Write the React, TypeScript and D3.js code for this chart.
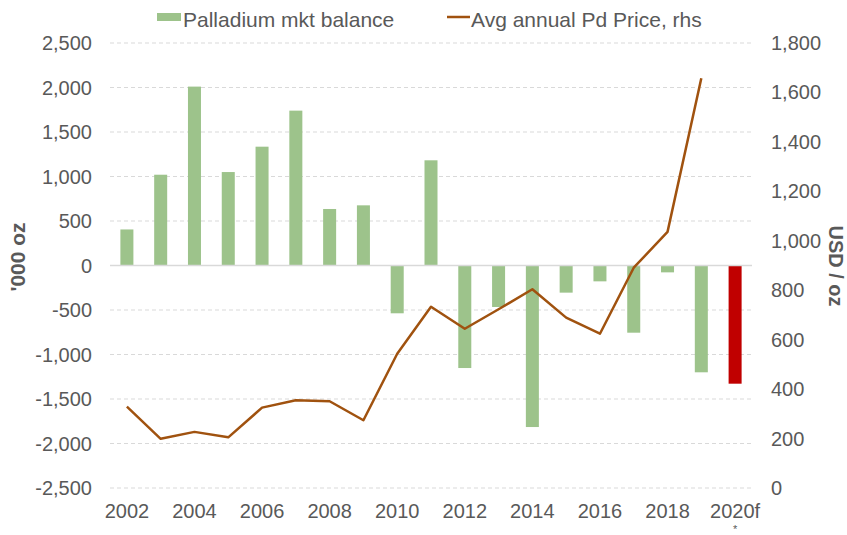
import React from "react";
import * as d3 from "d3";

const categories = ["2002","2003","2004","2005","2006","2007","2008","2009","2010","2011","2012","2013","2014","2015","2016","2017","2018","2019","2020f"];
const balance = [405, 1020, 2010, 1050, 1335, 1740, 635, 676, -537, 1182, -1152, -466, -1815, -305, -178, -755, -77, -1200, -1328];
const price = [329, 199, 227, 205, 325, 355, 351, 274, 543, 733, 644, 723, 804, 689, 624, 891, 1036, 1657, null];
const leftTicks = [-2500, -2000, -1500, -1000, -500, 0, 500, 1000, 1500, 2000, 2500];
const rightTicks = [0, 200, 400, 600, 800, 1000, 1200, 1400, 1600, 1800];
const xTickLabels = ["2002","2004","2006","2008","2010","2012","2014","2016","2018","2020f"];
const forecastCategory = "2020f";

const W = 847, H = 535;
const FONT = "'Liberation Sans', Arial, sans-serif";
const TEXT = "#595959";

export default function App() {
  const x = d3.scaleBand<string>().domain(categories).range([110, 752]).paddingInner(0.615).paddingOuter(0.3075);
  const yL = d3.scaleLinear().domain([-2500, 2500]).range([488, 43]);
  const yR = d3.scaleLinear().domain([0, 1800]).range([488, 43]);
  const f = d3.format(",");
  const fmt = (v: number) => f(v).replace("\u2212", "-");
  const cx = (c: string) => (x(c) as number) + x.bandwidth() / 2;

  const pts = categories.map((c, i) => ({ c, v: price[i] })).filter(d => d.v != null) as { c: string; v: number }[];
  const line = d3.line<{ c: string; v: number }>().x(d => cx(d.c)).y(d => yR(d.v));

  return (
    <svg width={W} height={H} style={{ position: "absolute", left: 0, top: 0, background: "#fff" }} fontFamily={FONT}>
      {leftTicks.filter(t => t !== 0).map(t => (
        <line key={t} x1={110} x2={752} y1={yL(t)} y2={yL(t)} stroke="#D9D9D9" strokeWidth={1} strokeDasharray="4,3" />
      ))}
      {categories.map((c, i) => {
        const v = balance[i];
        const y0 = yL(0), y1 = yL(v);
        return (
          <rect key={c} x={x(c)} width={x.bandwidth()} y={Math.min(y0, y1)} height={Math.abs(y1 - y0)}
            fill={c === forecastCategory ? "#C00000" : "#9DC38B"} />
        );
      })}
      <line x1={110} x2={752} y1={yL(0)} y2={yL(0)} stroke="#D9D9D9" strokeWidth={1.5} />
      <path d={line(pts) || ""} fill="none" stroke="#A0520F" strokeWidth={2.5} strokeLinejoin="round" />
      {leftTicks.map(t => (
        <text key={t} x={92} y={yL(t)} dy="0.35em" textAnchor="end" fontSize={20} fill={TEXT}>{fmt(t)}</text>
      ))}
      {rightTicks.map(t => (
        <text key={t} x={771} y={yR(t)} dy="0.35em" textAnchor="start" fontSize={20} fill={TEXT}>{fmt(t)}</text>
      ))}
      {xTickLabels.map(c => (
        <text key={c} x={cx(c)} y={518} textAnchor="middle" fontSize={20} fill={TEXT}>{c}</text>
      ))}
      <text x={cx(forecastCategory)} y={532.5} textAnchor="middle" fontSize={11} fill={TEXT}>*</text>
      <text transform={`translate(25,257) rotate(-90)`} textAnchor="middle" fontSize={21} fontWeight="bold" fill={TEXT}>'000 oz</text>
      <text transform={`translate(829,266) rotate(90)`} textAnchor="middle" fontSize={20} fontWeight="bold" fill={TEXT}>USD / oz</text>
      <rect x={157} y={13} width={24} height={8} fill="#9DC38B" />
      <text x={183} y={26.5} fontSize={21} fill={TEXT}>Palladium mkt balance</text>
      <line x1={447} x2={470} y1={17} y2={17} stroke="#A0520F" strokeWidth={2.5} />
      <text x={471} y={26.5} fontSize={21} fill={TEXT}>Avg annual Pd Price, rhs</text>
    </svg>
  );
}
